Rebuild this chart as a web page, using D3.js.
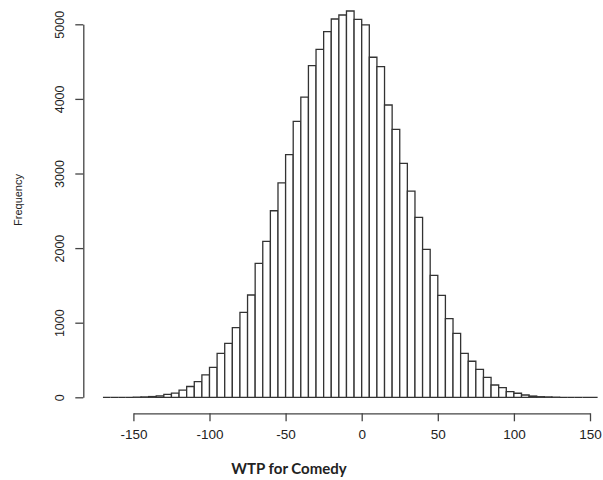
<!DOCTYPE html>
<html>
<head>
<meta charset="utf-8">
<script src="https://cdn.jsdelivr.net/npm/d3@7"></script>
<style>
  body { margin: 0; background: #fff; }
  text { font-family: "Liberation Sans", Arial, sans-serif; fill: #222; }
</style>
</head>
<body>
<div id="chart"></div>
<script>
const w = 603;
const h = 480;

// histogram breaks (left edges), bin width 5
const binStart = -170;
const binWidth = 5;
const counts = [
    0, 0, 0, 0,
    2, 5, 10, 20, 38, 55, 95, 145, 210, 300,
    400, 590, 724, 935, 1139, 1371, 1796, 2091, 2501, 2873,
    3252, 3700, 4025, 4445, 4665, 4901, 5071, 5125, 5178, 5067,
    4991, 4558, 4432, 3918, 3592, 3137, 2765, 2413, 1984, 1635,
    1365, 1055, 858, 590, 483, 375, 268, 165, 129, 75,
    54, 31, 17, 8, 5, 2, 0, 0, 0, 0, 0
];
const xTicks = [-150, -100, -50, 0, 50, 100, 150];
const yTicks = [0, 1000, 2000, 3000, 4000, 5000];
const xTitle = "WTP for Comedy";
const yTitle = "Frequency";

let bins = counts.map((c, i) => ({
    x0: binStart + i * binWidth,
    x1: binStart + (i + 1) * binWidth,
    n: c
}));

let svg = d3.select("#chart").append("svg")
    .attr("width", w)
    .attr("height", h);

let xScale = d3.scaleLinear()
    .domain([-150, 150])
    .range([133.4, 590]);

let yScale = d3.scaleLinear()
    .domain([0, 5000])
    .range([397.3, 24.3]);

// bars as paths so empty bins still show as a flat line, like R's hist()
svg.append("g")
    .selectAll("path")
    .data(bins)
    .join("path")
    .attr("d", d => {
        let a = xScale(d.x0), b = xScale(d.x1);
        return "M" + a + "," + yScale(0) + "V" + yScale(d.n) + "H" + b + "V" + yScale(0) + "Z";
    })
    .attr("fill", "#fff")
    .attr("stroke", "#333")
    .attr("stroke-width", 1.3);

// x axis, R style (offset below the plot)
let xAxis = svg.append("g")
    .attr("transform", "translate(0,413.3)")
    .call(d3.axisBottom(xScale).tickValues(xTicks).tickSize(8).tickPadding(8)
        .tickSizeOuter(0).tickFormat(d => String(d)));
xAxis.select(".domain").attr("stroke", "#444").attr("stroke-width", 1.3);
xAxis.selectAll(".tick line").attr("stroke", "#444").attr("stroke-width", 1.3);
xAxis.selectAll(".tick text")
    .attr("font-size", 13.5)
    .attr("fill", "#222")
    .style("font-family", "Liberation Sans, Arial, sans-serif");

// y axis, labels rotated
let yAxis = svg.append("g")
    .attr("transform", "translate(83.3,0)")
    .call(d3.axisLeft(yScale).tickValues(yTicks).tickSize(8).tickSizeOuter(0)
        .tickFormat(d => String(d)));
yAxis.select(".domain").attr("stroke", "#444").attr("stroke-width", 1.3);
yAxis.selectAll(".tick line").attr("stroke", "#444").attr("stroke-width", 1.3);
yAxis.selectAll(".tick text")
    .attr("font-size", 12.5)
    .attr("fill", "#222")
    .attr("x", null)
    .attr("dy", null)
    .attr("text-anchor", "middle")
    .attr("transform", "translate(-23,0) rotate(-90)")
    .attr("dominant-baseline", "middle")
    .style("font-family", "Liberation Sans, Arial, sans-serif");

svg.append("text")
    .attr("x", 289)
    .attr("y", 470)
    .attr("text-anchor", "middle")
    .attr("dominant-baseline", "middle")
    .attr("font-size", 15)
    .attr("font-weight", "bold")
    .attr("fill", "#222")
    .style("font-family", "Lato, 'Open Sans', sans-serif")
    .text(xTitle);

svg.append("text")
    .attr("transform", "translate(19,200) rotate(-90)")
    .attr("text-anchor", "middle")
    .attr("dominant-baseline", "middle")
    .attr("font-size", 11)
    .attr("fill", "#333")
    .text(yTitle);
</script>
</body>
</html>
